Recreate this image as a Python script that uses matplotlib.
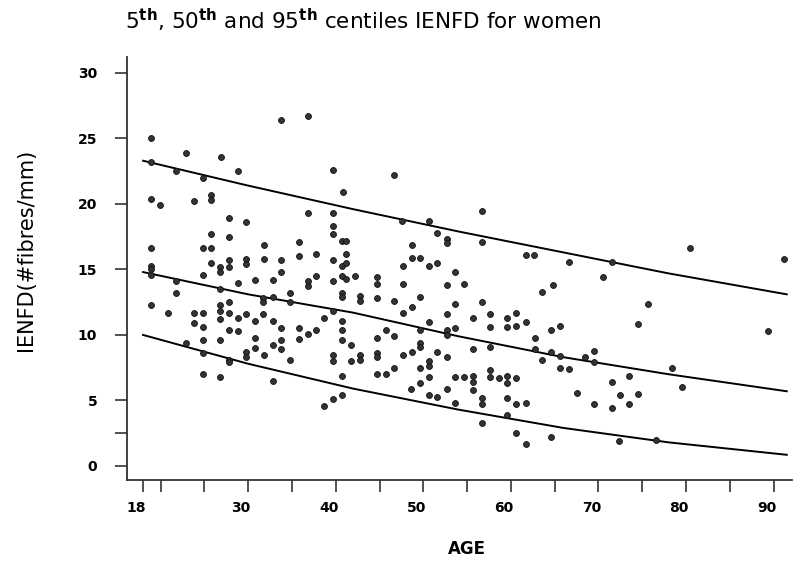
import matplotlib
matplotlib.use("Agg")
import matplotlib.pyplot as plt
import matplotlib.transforms as mtransforms

# scatter: age (years) and IENFD (#fibres/mm)
age = [18.9, 22.9, 26.9, 33.8, 36.8, 18.9, 21.8, 24.8, 28.8, 39.7, 40.8, 18.9, 19.9, 23.8,
       25.8, 25.8, 27.8, 29.8, 36.8, 39.7, 39.7, 39.7, 25.8, 27.8, 40.7, 18.9, 24.9, 25.8,
       31.8, 35.8, 25.8, 26.8, 26.8, 27.8, 27.8, 29.8, 29.8, 31.8, 33.8, 35.8, 37.7, 39.7,
       40.7, 18.9, 18.9, 18.9, 33.8, 24.9, 36.8, 36.8, 37.7, 39.7, 40.7, 21.8, 28.8, 30.8,
       32.8, 26.8,
       21.8, 34.8, 40.7, 40.7, 18.9, 20.9, 23.8, 24.9, 23.8, 24.9, 26.8, 26.8, 26.8, 27.8,
       27.8, 28.8, 29.8, 30.8, 31.7, 31.7, 32.8, 31.7, 32.8, 34.8, 33.8, 35.8, 35.8, 36.8,
       37.8, 38.7, 39.7, 40.7, 40.7, 40.7, 39.7, 39.7, 40.7, 27.8, 28.8, 26.8, 24.9, 22.9,
       24.9, 27.8, 27.8, 29.8, 29.8, 30.8, 30.8, 31.8, 32.8, 33.8, 33.8, 34.8, 24.9, 26.8,
       32.8, 38.7, 39.7, 40.7,
       46.7, 56.7, 47.6, 50.7, 51.6, 52.7, 52.7, 56.7, 61.7, 62.6, 41.2, 41.2, 48.7, 48.7,
       49.6, 47.7, 50.7, 51.6, 41.2, 41.2, 42.2, 44.7, 44.7, 47.7, 53.6, 52.7, 54.6, 64.8,
       42.8, 42.8, 44.7, 46.7, 47.7, 48.7, 49.6, 53.6, 52.7, 52.7, 52.7, 53.6, 50.7, 49.6,
       56.7, 57.6, 57.6, 55.7, 59.6, 59.6, 60.6, 60.6, 61.7, 63.6, 64.6, 65.6, 62.7, 63.6,
       65.6, 55.7, 57.6, 62.7, 64.6, 41.7, 41.7, 42.8, 42.8, 44.7, 44.7, 44.7, 45.7, 46.7,
       47.7, 48.7, 49.6, 49.6, 50.7, 50.7, 51.6, 52.7, 49.6, 50.7, 44.7, 45.7, 46.7, 48.6,
       49.6, 50.7, 51.6, 52.7, 53.6, 54.6, 55.7, 55.7, 55.7, 57.6, 57.6, 58.6, 59.6, 59.6,
       60.6, 53.6, 56.7, 56.7, 56.7, 59.6, 60.6, 61.7, 59.6, 60.6, 61.7, 64.6, 65.6,
       66.6, 71.5, 70.5, 80.4, 91.2, 75.6, 74.5, 89.4, 69.5, 68.5, 69.5, 66.6, 78.4, 73.5,
       71.5, 74.5, 72.5, 79.5, 67.6, 69.5, 71.5, 73.5, 72.4, 76.6]
ienfd = [25.0, 23.9, 23.6, 26.4, 26.7, 23.2, 22.5, 22.0, 22.5, 22.6, 20.9, 20.4, 19.9, 20.2,
         20.7, 20.3, 18.9, 18.6, 19.3, 19.3, 18.3, 17.7, 17.7, 17.5, 17.2, 16.6, 16.6, 16.6,
         16.9, 17.1, 15.5, 15.2, 14.8, 15.7, 15.2, 15.8, 15.4, 15.8, 15.7, 16.0, 16.2, 15.7,
         15.3, 15.3, 15.0, 14.6, 14.8, 14.6, 14.1, 13.7, 14.5, 14.1, 14.5, 14.1, 14.0, 14.2,
         14.2, 13.5,
         13.2, 13.2, 13.2, 12.9, 12.3, 11.7, 11.7, 11.7, 10.9, 10.6, 12.3, 11.8, 11.2, 12.5,
         11.7, 11.3, 11.6, 11.1, 12.8, 12.5, 12.9, 11.6, 11.1, 12.5, 10.5, 10.5, 9.7, 10.1,
         10.4, 11.3, 11.8, 11.1, 10.4, 9.6, 8.5, 8.0, 6.9, 10.4, 10.3, 9.6, 9.6, 9.4,
         8.6, 8.1, 7.9, 8.7, 8.3, 9.8, 9.0, 8.5, 9.2, 9.6, 8.9, 8.1, 7.0, 6.8,
         6.5, 4.6, 5.1, 5.4,
         22.2, 19.5, 18.7, 18.7, 17.8, 17.3, 17.0, 17.1, 16.1, 16.1, 17.2, 16.2, 16.9, 15.9,
         15.9, 15.3, 15.3, 15.5, 15.5, 14.3, 14.5, 14.4, 13.9, 13.9, 14.8, 13.8, 13.9, 13.8,
         13.0, 12.6, 12.8, 12.6, 11.7, 12.1, 12.9, 12.4, 11.6, 10.4, 10.0, 10.5, 11.0, 10.4,
         12.5, 11.6, 10.6, 11.3, 11.3, 10.6, 11.7, 10.7, 11.0, 13.3, 10.4, 10.7, 9.8, 8.1,
         7.5, 8.9, 9.1, 8.9, 8.7, 9.2, 8.0, 8.5, 8.1, 8.6, 8.3, 9.8, 10.4, 9.9,
         8.5, 8.7, 9.4, 9.1, 8.0, 7.6, 8.7, 8.3, 7.5, 6.8, 7.0, 7.0, 7.5, 5.9,
         6.3, 5.4, 5.3, 5.9, 6.8, 6.8, 6.9, 6.4, 5.8, 7.3, 6.8, 6.7, 6.9, 6.3,
         6.7, 4.8, 5.2, 4.7, 3.3, 5.2, 4.7, 4.8, 3.9, 2.5, 1.7, 2.2, 8.4,
         15.6, 15.6, 14.4, 16.6, 15.8, 12.4, 10.8, 10.3, 8.8, 8.3, 7.9, 7.4, 7.5, 6.9,
         6.4, 5.5, 5.4, 6.0, 5.6, 4.7, 4.4, 4.7, 1.9, 2.0]

# centile curves
curve_age = [18, 30, 42, 54, 66, 78, 91.5]
p95 = [23.3, 21.4, 19.6, 17.9, 16.3, 14.7, 13.1]
p50 = [14.8, 13.1, 11.7, 9.9, 8.3, 7.0, 5.7]
p5 = [10.0, 7.8, 5.9, 4.3, 2.9, 1.8, 0.85]

xticks_major = [18, 30, 40, 50, 60, 70, 80, 90]
xticks_minor = [20, 25, 35, 45, 55, 65, 75, 85]
yticks = [0, 5, 10, 15, 20, 25, 30]

fig = plt.figure(figsize=(7.94, 5.62), dpi=100)
ax = fig.add_axes([0.16, 0.146, 0.8375, 0.7526])

ax.scatter(age, ienfd, s=18, color='#333333', edgecolors='#111111', linewidths=0.6, zorder=3)
for c in (p95, p50, p5):
    ax.plot(curve_age, c, color='black', lw=1.4, zorder=2)

ax.set_xlim(16.17, 92.1)
ax.set_ylim(-1.07, 31.22)

for s in ('top', 'right'):
    ax.spines[s].set_visible(False)
for s in ('left', 'bottom'):
    ax.spines[s].set_color('#333333')
    ax.spines[s].set_linewidth(1.3)

ax.set_xticks(xticks_major)
ax.set_xticks(xticks_minor, minor=True)
ax.set_yticks(yticks)
ax.set_yticks([2.5], minor=True)
ax.tick_params(axis='both', which='both', direction='out', length=8.5, width=1.2, color='#333333')
ax.tick_params(axis='x', pad=7)
ax.tick_params(axis='y', pad=13)
for lab in ax.get_xticklabels() + ax.get_yticklabels():
    lab.set_fontweight('bold')
    lab.set_fontsize(10)

# x labels sit a little left of their ticks in the original
shift = mtransforms.ScaledTranslation(-0.07, 0, fig.dpi_scale_trans)
for lab in ax.get_xticklabels():
    lab.set_transform(lab.get_transform() + shift)

fig.text(125 / 794, 1 - 20 / 562, r'5$^{\mathbf{th}}$, 50$^{\mathbf{th}}$ and 95$^{\mathbf{th}}$ centiles IENFD for women',
         ha='left', va='center', fontsize=15.5)
fig.text(26 / 794, 1 - 250 / 562, 'IENFD(#fibres/mm)', rotation=90, ha='center', va='center', fontsize=15)
fig.text(467 / 794, 1 - 549 / 562, 'AGE', ha='center', va='center', fontsize=12, fontweight='bold')

fig.savefig('out.png', dpi=100)
